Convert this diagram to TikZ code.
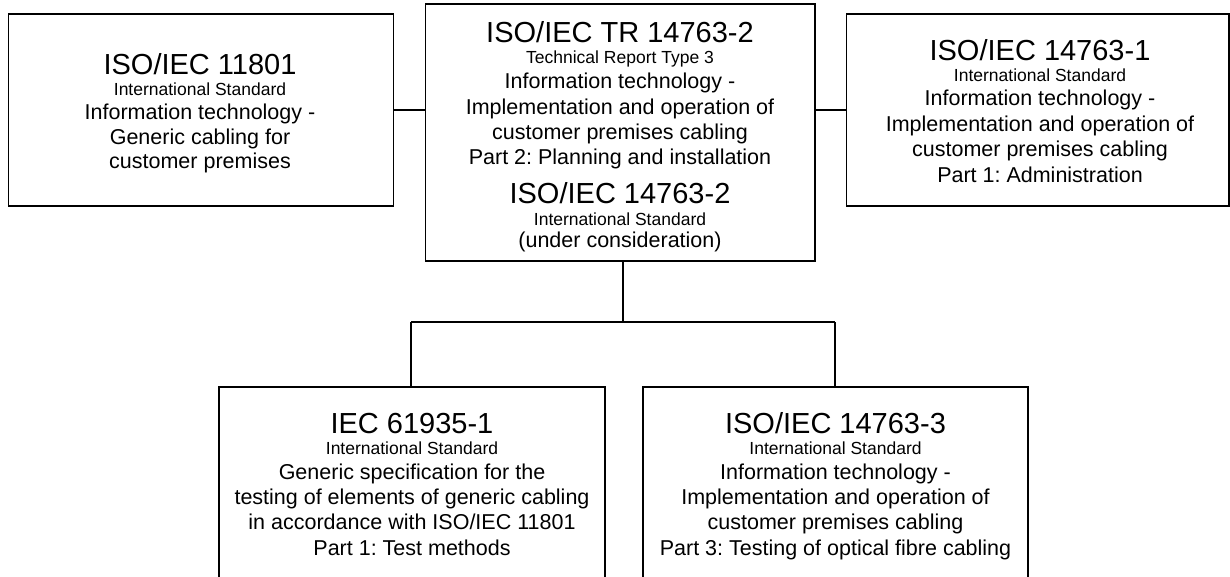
\documentclass[tikz,border=0pt]{standalone}
\usepackage{fontspec}
\setmainfont{Liberation Sans}
\frenchspacing
\newcommand\tsz{\fontsize{29}{29}\selectfont\frenchspacing}
\newcommand\bsz{\fontsize{21.5}{24}\selectfont\frenchspacing}
\newcommand\ssz{\fontsize{17.5}{20}\selectfont\frenchspacing}
\begin{document}
\begin{tikzpicture}[x=1pt,y=-1pt,
  box/.style={draw=black,line width=1.6pt,fill=none},
  conn/.style={draw=black,line width=1.6pt},
  tl/.style={anchor=base,inner sep=0pt,font=\tsz},
  bl/.style={anchor=base,inner sep=0pt,font=\bsz},
  sl/.style={anchor=base,inner sep=0pt,font=\ssz}]
\useasboundingbox (0,0) rectangle (1230,576);
% boxes
\path[box] (8.5,14) rectangle (393.5,206);
\coordinate (b1e) at (393.5,110);
\path[box] (425.5,4) rectangle (815,261);
\coordinate (b2w) at (425.5,110);
\coordinate (b2e) at (815,110);
\coordinate (b2s) at (623,261);
\path[box] (846.5,14) rectangle (1229,206);
\coordinate (b3w) at (846.5,110);
\path[box] (219,387) rectangle (605,580);
\coordinate (b4n) at (411,387);
\path[box] (643,387) rectangle (1028,580);
\coordinate (b5n) at (835,387);
% connectors
\coordinate (j) at (623,322);
\coordinate (jl) at (411,322);
\coordinate (jr) at (835,322);
\draw[conn] (b1e) -- (b2w);
\draw[conn] (b2e) -- (b3w);
\draw[conn] (b2s) -- (j);
\draw[conn] (jl) -- (jr);
\draw[conn] (jl) -- (b4n);
\draw[conn] (jr) -- (b5n);
% box 1 text
\node[tl] (a1) at (200,74.3) {ISO/IEC 11801};
\node[sl] (a2) at (200,95) {International Standard};
\node[bl] (a3) at (200,119.3) {Information technology -};
\node[bl] (a4) at (200,144) {Generic cabling for};
\node[bl] (a5) at (200,168.3) {customer premises};
% box 2 text
\node[tl] (c1) at (620,42) {ISO/IEC TR 14763-2};
\node[sl] (c2) at (620,63) {Technical Report Type 3};
\node[bl] (c3) at (620,88.5) {Information technology -};
\node[bl] (c4) at (620,114) {Implementation and operation of};
\node[bl] (c5) at (620,139) {customer premises cabling};
\node[bl] (c6) at (620,164) {Part 2: Planning and installation};
\node[tl] (c7) at (620,203.5) {ISO/IEC 14763-2};
\node[sl] (c8) at (620,225) {International Standard};
\node[bl] (c9) at (620,247) {(under consideration)};
% box 3 text
\node[tl] (d1) at (1040,60) {ISO/IEC 14763-1};
\node[sl] (d2) at (1040,81) {International Standard};
\node[bl] (d3) at (1040,105.5) {Information technology -};
\node[bl] (d4) at (1040,131) {Implementation and operation of};
\node[bl] (d5) at (1040,156.5) {customer premises cabling};
\node[bl] (d6) at (1040,182) {Part 1: Administration};
% box 4 text
\node[tl] (e1) at (412,433.3) {IEC 61935-1};
\node[sl] (e2) at (412,454) {International Standard};
\node[bl] (e3) at (412,479) {Generic specification for the};
\node[bl] (e4) at (412,504) {testing of elements of generic cabling};
\node[bl] (e5) at (412,529.5) {in accordance with ISO/IEC 11801};
\node[bl] (e6) at (412,555) {Part 1: Test methods};
% box 5 text
\node[tl] (f1) at (835.5,433.3) {ISO/IEC 14763-3};
\node[sl] (f2) at (835.5,454) {International Standard};
\node[bl] (f3) at (835.5,479) {Information technology -};
\node[bl] (f4) at (835.5,504) {Implementation and operation of};
\node[bl] (f5) at (835.5,529.5) {customer premises cabling};
\node[bl] (f6) at (835.5,555) {Part 3: Testing of optical fibre cabling};
\end{tikzpicture}
\end{document}
